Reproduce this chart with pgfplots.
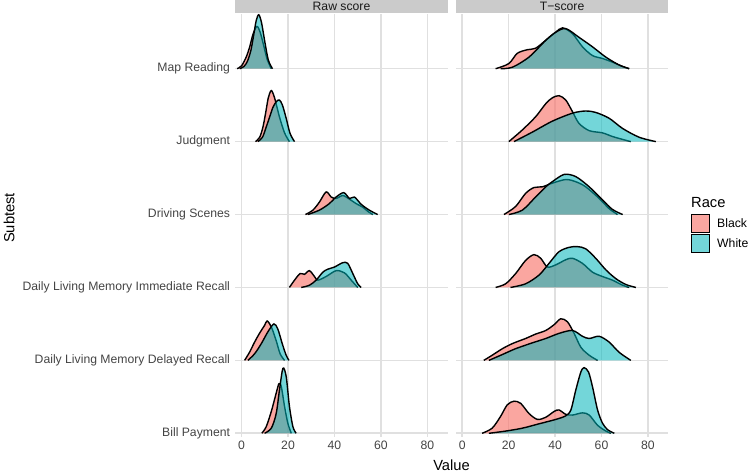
\documentclass[border=0pt]{standalone}
\usepackage{pgfplots}
\pgfplotsset{compat=1.18}
\usepackage{fontspec}
\setmainfont{Liberation Sans}
\definecolor{pinkf}{HTML}{F8766D}
\definecolor{tealf}{HTML}{00B5BA}
\definecolor{gridc}{HTML}{E0E0E0}
\definecolor{stripc}{HTML}{CBCBCB}
\definecolor{tickc}{HTML}{444444}
\definecolor{stript}{HTML}{1A1A1A}
\newcommand{\axfont}{\fontsize{12.2}{13}\selectfont}
\newcommand{\tifont}{\fontsize{14.7}{16}\selectfont}
\pgfplotsset{
  ridge/.style={
    scale only axis, width=212.6pt, height=423pt, anchor=south west,
    xmin=-2.75, xmax=88.8, ymin=0.949, ymax=6.75,
    axis line style={draw=none}, major tick length=0pt,
    xtick={0,20,40,60,80}, xticklabels={0,20,40,60,80},
    ytick={1,2,3,4,5,6},
    grid=major, grid style={gridc, line width=1.6pt},
    x tick label style={font=\axfont, text=tickc, anchor=north, inner sep=0pt, yshift=-3.5pt},
    y tick label style={font=\axfont, text=tickc, anchor=east, inner sep=0pt, xshift=-5pt},
  },
  rb/.style={fill=pinkf, fill opacity=0.65, draw=black, line width=1.4pt, smooth, tension=0.5},
  rw/.style={fill=tealf, fill opacity=0.55, draw=black, line width=1.4pt, smooth, tension=0.5},
}
\begin{document}
\begin{tikzpicture}[x=1pt,y=1pt]
\path[use as bounding box] (0,0) rectangle (750,472);
% strips
\fill[stripc] (235.2,458.5) rectangle (447.8,472);
\fill[stripc] (455.8,458.5) rectangle (668.4,472);
\node[font=\axfont, text=stript, inner sep=0pt] at (341.5,465.2) {Raw score};
\node[font=\axfont, text=stript, inner sep=0pt] at (562.1,465.2) {T−score};

\begin{axis}[ridge, at={(235.2pt,35pt)},
  yticklabels={Bill Payment, Daily Living Memory Delayed Recall, Daily Living Memory Immediate Recall, Driving Scenes, Judgment, Map Reading}]
% Map Reading
\addplot[rb] coordinates {(-1.9,6) (0,6.04) (2,6.16) (3.5,6.30) (4.9,6.47) (6.6,6.58) (8,6.50) (9.5,6.32) (11,6.13) (12.8,6)};
\addplot[rw] coordinates {(-0.8,6) (1,6.03) (2.5,6.10) (4,6.25) (5.2,6.46) (6.3,6.66) (7.4,6.74) (8.6,6.63) (10,6.37) (11.5,6.12) (13.3,6)};
% Judgment
\addplot[rb] coordinates {(6.0,5) (7.8,5.06) (9.2,5.20) (10.4,5.40) (11.5,5.60) (12.8,5.70) (14.2,5.60) (16.3,5.34) (18.5,5.12) (20.6,5)};
\addplot[rw] coordinates {(7.0,5) (9,5.06) (10.6,5.20) (12,5.33) (13.5,5.47) (15,5.55) (16.3,5.57) (17.6,5.50) (19.2,5.32) (20.9,5.11) (22.8,5)};
% Driving Scenes
\addplot[rb] coordinates {(27.5,4) (30.7,4.06) (33.5,4.17) (36.4,4.31) (38.6,4.24) (40.7,4.22) (43.6,4.26) (46.5,4.21) (49.3,4.15) (52.2,4.10) (54.5,4.04) (56.5,4)};
\addplot[rw] coordinates {(28.5,4) (33.5,4.06) (37.8,4.15) (40.7,4.24) (44.0,4.30) (46.5,4.22) (48.6,4.24) (51.5,4.14) (55.0,4.06) (58.6,4)};
% Immediate Recall
\addplot[rb] coordinates {(20.6,3) (22.8,3.10) (25.2,3.19) (27.1,3.18) (29.2,3.23) (31.4,3.15) (32.8,3.10) (36.4,3.15) (40.7,3.23) (44.3,3.20) (47.2,3.10) (50,3)};
\addplot[rw] coordinates {(25.7,3) (29.2,3.03) (32.1,3.10) (35.0,3.21) (37.1,3.25) (40.0,3.28) (43.6,3.34) (45.7,3.33) (47.9,3.19) (50.0,3.05) (51.5,3)};
% Delayed Recall
\addplot[rb] coordinates {(1.3,2) (3.4,2.11) (5.6,2.25) (7.7,2.37) (9.9,2.48) (11.0,2.54) (12.8,2.46) (14.9,2.27) (16.6,2.09) (18.5,2)};
\addplot[rw] coordinates {(2.7,2) (5.6,2.09) (8.5,2.23) (11.3,2.39) (13.9,2.50) (15.6,2.43) (17.5,2.23) (19.2,2.07) (20.4,2)};
% Bill Payment
\addplot[rb] coordinates {(8.7,1) (10.6,1.09) (12.8,1.30) (14.9,1.55) (16.1,1.68) (17.1,1.64) (18.5,1.37) (19.9,1.14) (21.4,1)};
\addplot[rw] coordinates {(9.9,1) (12.8,1.07) (14.9,1.27) (16.3,1.59) (17.8,1.89) (19.2,1.78) (20.6,1.37) (22.1,1.09) (23.5,1)};
\end{axis}

\begin{axis}[ridge, at={(455.8pt,35pt)}, yticklabels={}]
% Map Reading
\addplot[rb] coordinates {(14.4,6) (20.1,6.07) (23.7,6.21) (28.0,6.26) (31.6,6.28) (36.0,6.39) (40.3,6.50) (43.2,6.56) (47.5,6.48) (51.8,6.30) (56.1,6.18) (60.4,6.14) (64.7,6.09) (68.3,6.04) (71.9,6)};
\addplot[rw] coordinates {(16.5,6) (21.6,6.02) (28.8,6.16) (36.0,6.39) (40.3,6.50) (44.6,6.55) (50.3,6.43) (56.1,6.30) (61.8,6.16) (67.6,6.05) (71.9,6)};
% Judgment
\addplot[rb] coordinates {(20.1,5) (25.9,5.16) (31.6,5.34) (36.0,5.52) (38.8,5.60) (41.7,5.63) (44.6,5.57) (47.5,5.41) (50.3,5.25) (54.7,5.15) (60.4,5.12) (64.7,5.07) (69.1,5.03) (72.6,5)};
\addplot[rw] coordinates {(22.3,5) (30.2,5.13) (38.8,5.28) (47.5,5.39) (53.2,5.42) (57.5,5.40) (63.3,5.32) (69.1,5.18) (76.2,5.06) (83.4,5)};
% Driving Scenes
\addplot[rb] coordinates {(18.0,4) (23.0,4.11) (27.3,4.29) (30.9,4.37) (34.5,4.38) (38.8,4.43) (44.6,4.48) (48.9,4.45) (53.2,4.38) (59.0,4.22) (63.3,4.08) (66.9,4)};
\addplot[rw] coordinates {(20.1,4) (25.9,4.06) (31.6,4.24) (36.0,4.38) (38.8,4.45) (43.9,4.55) (48.9,4.52) (54.7,4.38) (60.4,4.20) (64.7,4.07) (69.1,4)};
% Immediate Recall
\addplot[rb] coordinates {(14.4,3) (18.7,3.05) (23.0,3.19) (27.3,3.37) (30.9,3.45) (33.8,3.40) (36.7,3.28) (40.3,3.31) (44.6,3.38) (47.5,3.40) (51.8,3.33) (56.1,3.21) (60.4,3.15) (64.7,3.10) (69.1,3.03) (71.9,3)};
\addplot[rw] coordinates {(20.8,3) (27.3,3.05) (33.1,3.17) (37.4,3.33) (41.7,3.49) (46.0,3.55) (49.6,3.56) (53.2,3.53) (57.5,3.40) (61.9,3.24) (66.2,3.12) (70.5,3.04) (74.8,3)};
% Delayed Recall
\addplot[rb] coordinates {(9.3,2) (12.9,2.07) (17.3,2.16) (21.6,2.23) (27.3,2.30) (31.6,2.36) (36.0,2.41) (39.6,2.49) (42.4,2.57) (45.3,2.53) (48.2,2.37) (51.1,2.18) (54.7,2.07) (58.3,2)};
\addplot[rw] coordinates {(11.5,2) (17.3,2.08) (23.0,2.16) (30.2,2.24) (36.0,2.30) (41.7,2.37) (47.5,2.41) (51.8,2.33) (54.7,2.30) (59.0,2.33) (63.3,2.25) (67.6,2.11) (72.6,2)};
% Bill Payment
\addplot[rb] coordinates {(8.6,1) (12.9,1.07) (16.5,1.23) (19.4,1.39) (22.3,1.44) (25.2,1.41) (28.8,1.27) (32.4,1.19) (36.0,1.22) (39.6,1.30) (41.7,1.32) (44.6,1.26) (47.5,1.25) (51.8,1.28) (54.7,1.25) (58.3,1.11) (61.9,1.03) (64.0,1)};
\addplot[rw] coordinates {(11.5,1) (18.7,1.03) (25.9,1.07) (33.1,1.13) (40.3,1.19) (44.6,1.24) (46.8,1.32) (48.9,1.59) (51.1,1.84) (52.5,1.90) (54.4,1.84) (56.1,1.64) (58.3,1.32) (60.4,1.14) (62.6,1.05) (65.5,1)};
\end{axis}

% axis titles
\node[font=\tifont, inner sep=0pt] at (451.5,7) {Value};
\node[font=\tifont, inner sep=0pt, rotate=90] at (9,254) {Subtest};

% legend
\node[font=\tifont, anchor=base west, inner sep=0pt] at (691,264) {Race};
\filldraw[fill=pinkf, fill opacity=0.65, draw=black, line width=1.4pt] (691.5,239.5) rectangle (709.5,257.5);
\filldraw[fill=tealf, fill opacity=0.55, draw=black, line width=1.4pt] (691.5,219.5) rectangle (709.5,237.5);
\node[font=\axfont, anchor=west, inner sep=0pt] at (717,248.5) {Black};
\node[font=\axfont, anchor=west, inner sep=0pt] at (717,228.5) {White};
\end{tikzpicture}
\end{document}
